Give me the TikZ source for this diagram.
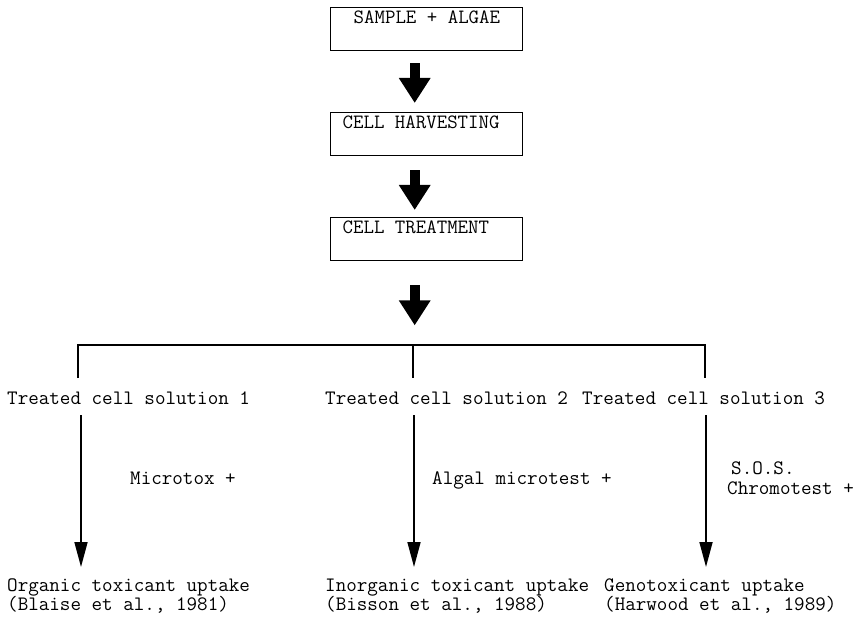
\documentclass[tikz,border=0pt]{standalone}
\usepackage{fontspec}
\usetikzlibrary{arrows.meta}
\newcommand\twfont{\ttfamily}
\begin{document}
\begin{tikzpicture}[x=1pt,y=-1pt,
  box/.style={draw, line width=1.4pt, rectangle, anchor=north west, inner xsep=11pt, inner ysep=4pt,
    text width=170pt, align=left, text height=12pt, text depth=23pt, font=\fontsize{20.3}{21}\twfont},
  lbl/.style={anchor=base west, inner sep=0pt, font=\fontsize{20.5}{22}\twfont},
  bigarrow/.style={line width=10pt, -{Triangle[width=30pt,length=25pt]}},
  treeline/.style={line width=1.7pt},
  thinarrow/.style={line width=1.7pt, -{Triangle[width=13pt,length=25pt]}}]
\useasboundingbox (0,0) rectangle (861,617);

% boxes
\node[box] (b1) at (330,7) {\spaceskip=0pt\xspaceskip=0pt\hspace*{12pt}SAMPLE + ALGAE};
\node[box] (b2) at (330,112) {\spaceskip=0pt\xspaceskip=0pt\hspace*{1pt}CELL HARVESTING};
\node[box] (b3) at (330,217) {\spaceskip=0pt\xspaceskip=0pt\hspace*{1pt}CELL TREATMENT};

% block arrows
\draw[bigarrow] ([xshift=-12pt,yshift=-12pt]b1.south) -- ([xshift=-12pt,yshift=9pt]b2.north);
\draw[bigarrow] ([xshift=-12pt,yshift=-14pt]b2.south) -- ([xshift=-12pt,yshift=7pt]b3.north);
\draw[bigarrow] ([xshift=-12pt,yshift=-24pt]b3.south) coordinate (a3s) -- ++(0,40) coordinate (a3e);

% labels
\node[lbl] (t1) at (7,404) {Treated cell solution 1};
\node[lbl] (t2) at (325,404) {Treated cell solution 2};
\node[lbl] (t3) at (582,404) {Treated cell solution 3};

\node[lbl] (m1) at (130,484) {Microtox +};
\node[lbl] (m2) at (432,484) {Algal microtest +};
\node[lbl] (m3a) at (731,474) {S.O.S.};
\node[lbl] (m3b) at (727,494) {Chromotest +};

\node[lbl] (o1) at (7,591) {Organic toxicant uptake};
\node[lbl] (p1) at (7,610) {(Blaise et al., 1981)};
\node[lbl] (o2) at (325,591) {Inorganic toxicant uptake};
\node[lbl] (p2) at (325,610) {(Bisson et al., 1988)};
\node[lbl] (o3) at (604,591) {Genotoxicant uptake};
\node[lbl] (p3) at (604,610) {(Harwood et al., 1989)};

% tree
\coordinate (j1) at (78,345);
\coordinate (j2) at (413,345);
\coordinate (j3) at (705,345);
\coordinate (k1) at (78,378);
\coordinate (k2) at (413,378);
\coordinate (k3) at (705,378);
\draw[treeline] (k1) -- (j1) -- (j3) -- (k3);
\draw[treeline] (j2) -- (k2);

% lower arrows
\coordinate (s1) at (81,415);
\coordinate (e1) at (81,567);
\coordinate (s2) at (414,415);
\coordinate (e2) at (414,567);
\coordinate (s3) at (706,415);
\coordinate (e3) at (706,567);
\draw[thinarrow] (s1) -- (e1);
\draw[thinarrow] (s2) -- (e2);
\draw[thinarrow] (s3) -- (e3);
\end{tikzpicture}
\end{document}
